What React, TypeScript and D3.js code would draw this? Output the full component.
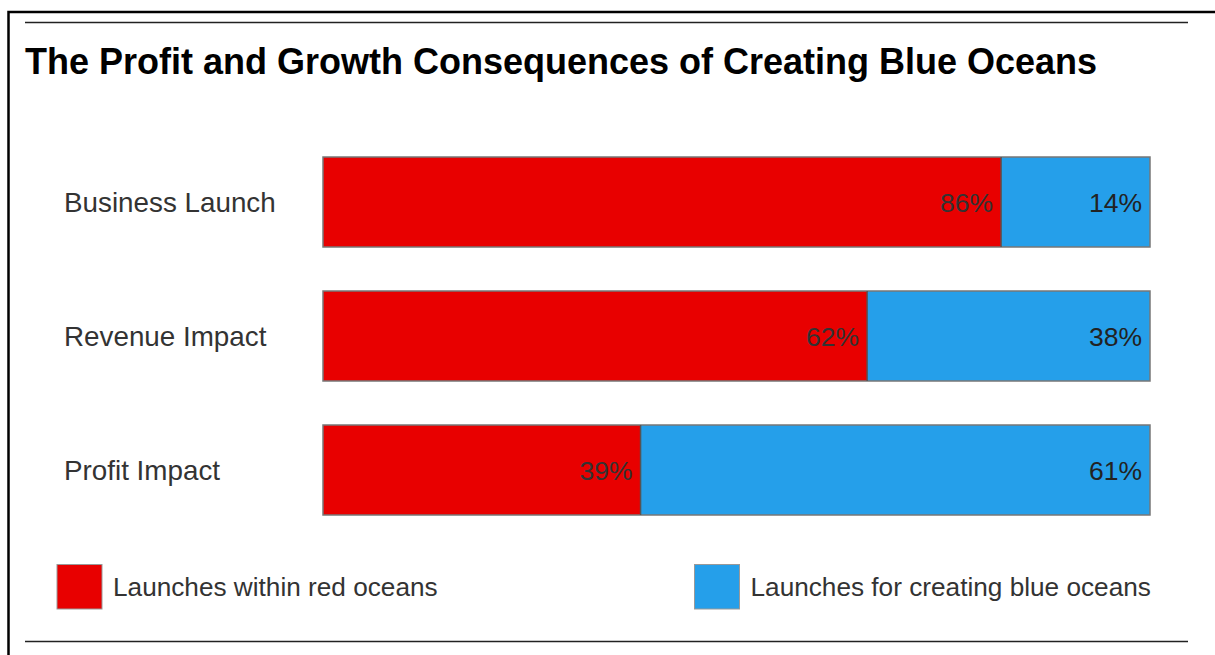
import React from "react";
import * as d3 from "d3";

const title = "The Profit and Growth Consequences of Creating Blue Oceans";
const categories = ["Business Launch", "Revenue Impact", "Profit Impact"];
// shares as drawn in the picture (red segment length, % of bar)
const redDrawn = [82, 65.8, 38.4];
// value labels as printed
const redLabels = ["86%", "62%", "39%"];
const blueLabels = ["14%", "38%", "61%"];
const seriesNames = ["Launches within red oceans", "Launches for creating blue oceans"];
const seriesColors = ["#e80000", "#259fea"];

const W = 1215;
const H = 655;
const FONT = "'Liberation Sans', Arial, Helvetica, sans-serif";

export default function App() {
  const x = d3.scaleLinear().domain([0, 100]).range([323, 1150]);
  const y = d3
    .scaleBand<string>()
    .domain(categories)
    .range([157 - 22, 157 + 134 * 3 - 22])
    .paddingInner(44 / 134)
    .paddingOuter(22 / 134);
  const bw = y.bandwidth();
  const labelFs = 27.8;
  const valueFs = 26.5;
  return (
    <svg
      width={W}
      height={H}
      style={{ position: "absolute", left: 0, top: 0, background: "#fff" }}
    >
      <rect x={8.5} y={12} width={W + 20} height={H + 20} fill="#fff" stroke="#000" strokeWidth={2.5} />
      <line x1={25} x2={1188} y1={22.5} y2={22.5} stroke="#222" strokeWidth={1.5} />
      <line x1={25} x2={1188} y1={641.5} y2={641.5} stroke="#222" strokeWidth={1.5} />
      <text x={25} y={74} fontFamily={FONT} fontWeight="bold" fontSize={36} fill="#000" textLength={1072} lengthAdjust="spacingAndGlyphs">
        {title}
      </text>
      {categories.map((c, i) => {
        const y0 = y(c)!;
        const cy = y0 + bw / 2;
        const xs = x(redDrawn[i]);
        return (
          <g key={c}>
            <text x={64} y={cy + labelFs * 0.37} fontFamily={FONT} fontSize={labelFs} fill="#333">
              {c}
            </text>
            <rect x={x(0)} y={y0} width={xs - x(0)} height={bw} fill={seriesColors[0]} />
            <rect x={xs} y={y0} width={x(100) - xs} height={bw} fill={seriesColors[1]} />
            <rect x={x(0)} y={y0} width={x(100) - x(0)} height={bw} fill="none" stroke="#777" strokeWidth={1.5} />
            <line x1={xs} x2={xs} y1={y0} y2={y0 + bw} stroke="#555" strokeWidth={1.5} />
            <text x={xs - 8} y={cy + valueFs * 0.36} textAnchor="end" fontFamily={FONT} fontSize={valueFs} fill="#333">
              {redLabels[i]}
            </text>
            <text x={x(100) - 8} y={cy + valueFs * 0.36} textAnchor="end" fontFamily={FONT} fontSize={valueFs} fill="#222">
              {blueLabels[i]}
            </text>
          </g>
        );
      })}
      {seriesNames.map((s, i) => {
        const lx = i === 0 ? 57 : 694.5;
        return (
          <g key={s}>
            <rect x={lx} y={564.5} width={45} height={44.5} fill={seriesColors[i]} stroke="#999" strokeWidth={1} />
            <text x={lx + 56} y={596} fontFamily={FONT} fontSize={26.2} fill="#333">
              {s}
            </text>
          </g>
        );
      })}
    </svg>
  );
}
